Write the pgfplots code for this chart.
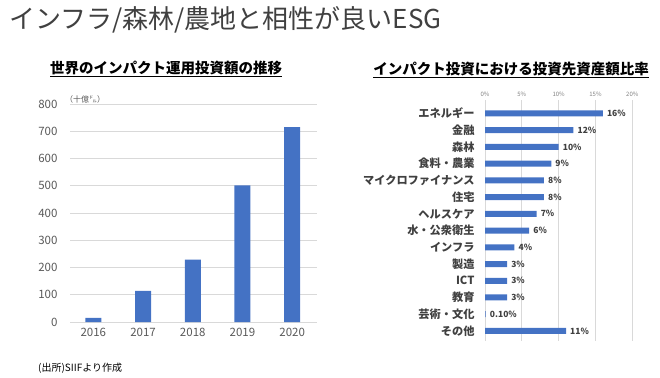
\documentclass[border=0pt]{standalone}
\usepackage{fontspec}
\setmainfont{Noto Sans CJK JP}
\usepackage{pgfplots}
\pgfplotsset{compat=1.18}
\definecolor{barblue}{HTML}{4472C4}
\definecolor{gridgray}{HTML}{D9D9D9}
\definecolor{tickgray}{HTML}{595959}
\definecolor{textdark}{HTML}{404040}
\begin{document}
\begin{tikzpicture}
\path[use as bounding box] (0pt,0pt) rectangle (660pt,-377pt);
% main title
\node[anchor=west, text=textdark, font=\fontsize{26}{30}\selectfont, inner sep=0] at (9pt,-20pt) {インフラ/森林/農地と相性が良いESG};
% sub titles
\node[font=\bfseries\fontsize{14.5}{17}\selectfont, inner sep=0, text=black] at (166pt,-69pt) {\underline{世界のインパクト運用投資額の推移}};
\node[font=\bfseries\fontsize{14.5}{17}\selectfont, inner sep=0, text=black] at (511pt,-70pt) {\underline{インパクト投資における投資先資産額比率}};
% unit + source
\node[anchor=west, font=\fontsize{8}{9}\selectfont, inner sep=0, text=tickgray] at (65pt,-99pt) {（十億㌦）};
\node[anchor=west, font=\fontsize{10}{11}\selectfont, inner sep=0, text=black] at (38pt,-368pt) {(出所)SIIFより作成};

% left chart
\begin{axis}[
  at={(70pt,-322pt)}, anchor=south west,
  scale only axis, width=247pt, height=218pt,
  ymin=0, ymax=800, ytick={0,100,...,800},
  xmin=-0.47, xmax=4.5, xtick={0,1,2,3,4},
  xticklabels={2016,2017,2018,2019,2020},
  ybar, bar width=16pt,
  ymajorgrids, grid style={gridgray, line width=0.7pt},
  axis line style={draw=none},
  major tick length=0pt,
  tick label style={text=tickgray, font=\fontsize{11.5}{13}\selectfont},
  yticklabel style={xshift=-9pt},
  xticklabel style={yshift=-3pt},
  /pgf/number format/assume math mode=true,
]
\addplot[fill=barblue, draw=none] coordinates {(0,15) (1,114) (2,229) (3,501) (4,715)};
\end{axis}

% right chart
\begin{axis}[
  at={(485pt,-100pt)}, anchor=north west,
  scale only axis, width=147.3pt, height=241pt,
  xbar, bar width=6pt,
  xmin=0, xmax=20, xtick={0,5,10,15,20},
  xticklabel={\pgfmathprintnumber{\tick}\%},
  xticklabel pos=top,
  ymin=-0.8, ymax=13.6, y dir=reverse,
  ytick={0,1,...,13},
  yticklabels={エネルギー,金融,森林,食料・農業,マイクロファイナンス,住宅,ヘルスケア,水・公衆衛生,インフラ,製造,ICT,教育,芸術・文化,その他},
  xmajorgrids, grid style={gridgray, line width=0.7pt},
  axis line style={draw=none},
  major tick length=0pt,
  xticklabel style={text=gray, font=\fontsize{6}{7}\selectfont},
  yticklabel style={text=textdark, font=\bfseries\fontsize{11.2}{12}\selectfont, xshift=-7pt},
  point meta=explicit symbolic,
  nodes near coords={\pgfplotspointmeta\%},
  nodes near coords style={anchor=west, text=textdark, font=\bfseries\fontsize{8.5}{9}\selectfont, inner sep=1pt, xshift=3pt},
  /pgf/number format/assume math mode=true,
]
\addplot[fill=barblue, draw=none] coordinates {
(16,0) [16] (12,1) [12] (10,2) [10] (9,3) [9] (8,4) [8] (8,5) [8] (7,6) [7]
(6,7) [6] (4,8) [4] (3,9) [3] (3,10) [3] (3,11) [3] (0.1,12) [0.10] (11,13) [11]};
\end{axis}
\end{tikzpicture}
\end{document}
